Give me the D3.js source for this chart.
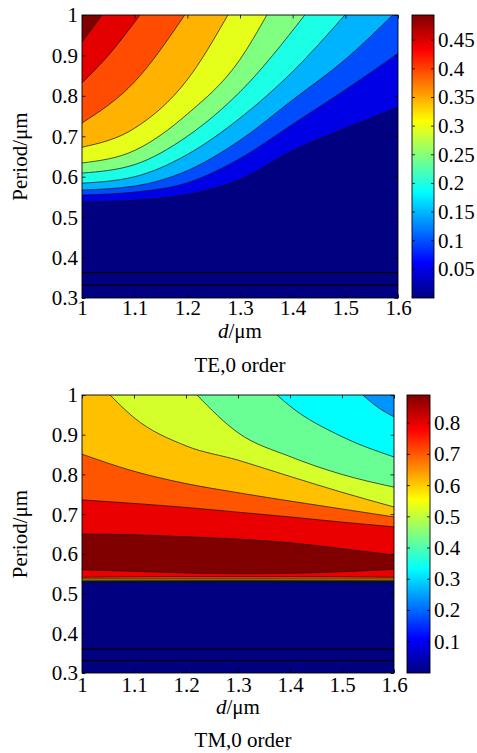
<!DOCTYPE html>
<html>
<head>
<meta charset="utf-8">
<script src="https://cdn.jsdelivr.net/npm/d3@7"></script>
<style>
  html, body { margin: 0; padding: 0; background: #fff; }
  svg text { font-family: "Liberation Serif", "Times New Roman", serif; font-size: 21px; fill: #000; }
</style>
</head>
<body>
<svg id="fig" width="477" height="753" font-family="Liberation Serif, serif"></svg>
<script>
// ---------- shared axes ----------
const dTicks = [1, 1.1, 1.2, 1.3, 1.4, 1.5, 1.6];
const periodTicks = [0.3, 0.4, 0.5, 0.6, 0.7, 0.8, 0.9, 1];

// ---------- TE, 0 order ----------
const teRange = [0, 0.494];
const teLevels = [0.045, 0.09, 0.135, 0.18, 0.225, 0.27, 0.315, 0.36, 0.405, 0.45];
const teBarTicks = [0.05, 0.1, 0.15, 0.2, 0.25, 0.3, 0.35, 0.4, 0.45];
// iso-efficiency lines as [d, period] points; efficiency is above the level over each line
const teIso = [
  [[1.0, 0.538], [1.1, 0.542], [1.2, 0.556], [1.3, 0.593], [1.4, 0.665], [1.5, 0.720], [1.6, 0.772]],
  [[1.0, 0.555], [1.1, 0.562], [1.2, 0.585], [1.3, 0.645], [1.4, 0.730], [1.5, 0.815], [1.6, 0.905]],
  [[1.0, 0.567], [1.1, 0.577], [1.2, 0.615], [1.3, 0.690], [1.4, 0.790], [1.5, 0.890], [1.59, 1.0]],
  [[1.0, 0.584], [1.1, 0.600], [1.2, 0.655], [1.3, 0.745], [1.4, 0.860], [1.499, 1.0]],
  [[1.0, 0.609], [1.1, 0.630], [1.2, 0.700], [1.3, 0.810], [1.423, 1.0]],
  [[1.0, 0.634], [1.1, 0.665], [1.2, 0.755], [1.3, 0.890], [1.351, 1.0]],
  [[1.0, 0.673], [1.1, 0.720], [1.2, 0.840], [1.277, 1.0]],
  [[1.0, 0.733], [1.1, 0.835], [1.195, 1.0]],
  [[1.0, 0.832], [1.05, 0.900], [1.11, 1.0]],
  [[1.0, 0.933], [1.038, 1.0]]
];
const teFlat = [0.363, 0.332];

// ---------- TM, 0 order ----------
const tmRange = [0, 0.89];
const tmLevels = [0.081, 0.162, 0.243, 0.324, 0.405, 0.486, 0.567, 0.648, 0.729, 0.81];
const tmBarTicks = [0.1, 0.2, 0.3, 0.4, 0.5, 0.6, 0.7, 0.8];
// lower edge of each "above level" region (steep rise near the cut-off period)
const tmLower = [
  [[1.0, 0.529], [1.3, 0.5295], [1.6, 0.529]],
  [[1.0, 0.5295], [1.3, 0.530], [1.6, 0.5295]],
  [[1.0, 0.530], [1.3, 0.5305], [1.6, 0.530]],
  [[1.0, 0.5305], [1.3, 0.531], [1.6, 0.5305]],
  [[1.0, 0.531], [1.3, 0.5315], [1.6, 0.531]],
  [[1.0, 0.532], [1.3, 0.5325], [1.6, 0.532]],
  [[1.0, 0.534], [1.3, 0.534], [1.6, 0.5335]],
  [[1.0, 0.537], [1.3, 0.537], [1.6, 0.5365]],
  [[1.0, 0.541], [1.2, 0.542], [1.4, 0.542], [1.6, 0.541]],
  [[1.0, 0.560], [1.1, 0.556], [1.2, 0.552], [1.3, 0.550], [1.4, 0.551], [1.5, 0.555], [1.6, 0.561]]
];
// upper edge of each "above level" region (null: reaches the top of the plot)
const tmUpper = [
  null,
  null,
  null,
  [[1.54, 1.0], [1.57, 0.968], [1.6, 0.945]],
  [[1.375, 1.0], [1.4, 0.972], [1.5, 0.895], [1.6, 0.844]],
  [[1.221, 1.0], [1.3, 0.905], [1.4, 0.845], [1.5, 0.800], [1.6, 0.768]],
  [[1.054, 1.0], [1.1, 0.943], [1.2, 0.872], [1.3, 0.836], [1.4, 0.795], [1.5, 0.755], [1.6, 0.718]],
  [[1.0, 0.851], [1.1, 0.808], [1.2, 0.777], [1.3, 0.754], [1.4, 0.733], [1.5, 0.713], [1.6, 0.693]],
  [[1.0, 0.736], [1.1, 0.727], [1.2, 0.717], [1.3, 0.705], [1.4, 0.693], [1.5, 0.680], [1.6, 0.668]],
  [[1.0, 0.650], [1.1, 0.648], [1.2, 0.643], [1.3, 0.637], [1.4, 0.628], [1.5, 0.613], [1.6, 0.597]]
];
const tmFlat = [0.36, 0.331];

// ---------- helpers ----------
function jet(t) {
  const c = v => Math.max(0, Math.min(1, v));
  const r = c(Math.min(4 * t - 1.5, -4 * t + 4.5));
  const g = c(Math.min(4 * t - 0.5, -4 * t + 3.5));
  const b = c(Math.min(4 * t + 0.5, -4 * t + 2.5));
  return d3.rgb(r * 255, g * 255, b * 255).formatHex();
}

const svg = d3.select("#fig");
const defs = svg.append("defs");
const serif = "Liberation Serif, Times New Roman, serif";

function drawPanel(o) {
  const x = d3.scaleLinear().domain([1, 1.6]).range([o.x0, o.x1]);
  const y = d3.scaleLinear().domain([0.3, 1]).range([o.y1, o.y0]);
  // band index -> position along the colour map
  const bandT = d3.scaleLinear().domain([0, o.levels.length]).range(o.bandSpan).clamp(true);
  const bandColor = k => jet(Math.max(0, bandT(k)));
  const line = d3.line().x(p => x(p[0])).y(p => y(p[1])).curve(d3.curveMonotoneX);

  defs.append("clipPath").attr("id", "clip-" + o.id)
    .append("rect").attr("x", o.x0).attr("y", o.y0)
    .attr("width", o.x1 - o.x0).attr("height", o.y1 - o.y0);

  const g = svg.append("g");
  const body = g.append("g").attr("clip-path", `url(#clip-${o.id})`);

  // lowest band fills the whole field, higher bands are stacked over it
  body.append("rect").attr("x", o.x0).attr("y", o.y0)
    .attr("width", o.x1 - o.x0).attr("height", o.y1 - o.y0)
    .attr("fill", bandColor(0));

  o.regions(line, x, y).forEach((p, i) => {
    body.append("path").attr("d", p).attr("fill", bandColor(i + 1)).attr("stroke", "none");
  });

  // contour lines
  o.lines.forEach(c => {
    body.append("path").attr("d", line(c)).attr("fill", "none")
      .attr("stroke", "#111").attr("stroke-width", 0.7);
  });
  o.flat.forEach(p => {
    body.append("line").attr("x1", x(1)).attr("x2", x(1.6))
      .attr("y1", y(p)).attr("y2", y(p))
      .attr("stroke", "#000").attr("stroke-width", 1.3);
  });

  // axes with inward ticks on all four sides
  const tk = 3.5;
  const fmt = d => String(d);
  const ax = [
    g.append("g").attr("transform", `translate(0,${o.y1})`)
      .call(d3.axisBottom(x).tickValues(dTicks).tickSize(-tk).tickPadding(o.xPad).tickFormat(fmt)),
    g.append("g").attr("transform", `translate(0,${o.y0})`)
      .call(d3.axisTop(x).tickValues(dTicks).tickSize(-tk).tickFormat("")),
    g.append("g").attr("transform", `translate(${o.x0},0)`)
      .call(d3.axisLeft(y).tickValues(periodTicks).tickSize(-tk).tickPadding(4).tickFormat(fmt)),
    g.append("g").attr("transform", `translate(${o.x1},0)`)
      .call(d3.axisRight(y).tickValues(periodTicks).tickSize(-tk).tickFormat(""))
  ];
  ax.forEach(a => {
    a.attr("font-family", serif).attr("font-size", 21);
    a.select(".domain").remove();
    a.selectAll(".tick line").attr("stroke", "#000").attr("stroke-width", 0.8);
  });
  ax[2].selectAll(".tick text").attr("dy", "0.33em");

  g.append("rect").attr("x", o.x0).attr("y", o.y0)
    .attr("width", o.x1 - o.x0).attr("height", o.y1 - o.y0)
    .attr("fill", "none").attr("stroke", "#000").attr("stroke-width", 0.9);

  // axis titles
  const xl = g.append("text").attr("x", (o.x0 + o.x1) / 2).attr("y", o.xlabelY)
    .attr("text-anchor", "middle");
  xl.append("tspan").attr("font-style", "italic").text("d");
  xl.append("tspan").text("/μm");

  g.append("text").attr("transform", `translate(27,${(o.y0 + o.y1) / 2}) rotate(-90)`)
    .attr("text-anchor", "middle").text("Period/μm");

  g.append("text").attr("x", o.captionX).attr("y", o.captionY)
    .attr("text-anchor", "middle").text(o.caption);

  // colour bar
  const cy = d3.scaleLinear().domain(o.range).range([o.y1, o.y0]);
  const grad = defs.append("linearGradient").attr("id", "grad-" + o.id)
    .attr("x1", 0).attr("y1", 1).attr("x2", 0).attr("y2", 0);
  d3.range(0, 65).forEach(i => {
    grad.append("stop").attr("offset", i / 64).attr("stop-color", jet(i / 64));
  });
  g.append("rect").attr("x", o.cb0).attr("y", o.y0)
    .attr("width", o.cb1 - o.cb0).attr("height", o.y1 - o.y0)
    .attr("fill", `url(#grad-${o.id})`);
  o.barTicks.forEach(v => {
    const yy = cy(v);
    g.append("line").attr("x1", o.cb0).attr("x2", o.cb0 + 3).attr("y1", yy).attr("y2", yy)
      .attr("stroke", "#000").attr("stroke-width", 0.8);
    g.append("line").attr("x1", o.cb1 - 3).attr("x2", o.cb1).attr("y1", yy).attr("y2", yy)
      .attr("stroke", "#000").attr("stroke-width", 0.8);
    g.append("text").attr("x", o.cb1 + 4).attr("y", yy).attr("dy", "0.33em").text(String(v));
  });
  g.append("rect").attr("x", o.cb0).attr("y", o.y0)
    .attr("width", o.cb1 - o.cb0).attr("height", o.y1 - o.y0)
    .attr("fill", "none").attr("stroke", "#000").attr("stroke-width", 0.9);
}

// TE panel: each band is the area above its iso-line
drawPanel({
  id: "te", x0: 82, x1: 398, y0: 15, y1: 298, cb0: 412, cb1: 434,
  range: teRange, levels: teLevels, bandSpan: [0, 1], barTicks: teBarTicks, flat: teFlat,
  lines: teIso, xPad: 2, xlabelY: 337.5, caption: "TE,0 order", captionX: 240, captionY: 372,
  regions: (line, x, y) => teIso.map(c =>
    line(c) + `L${x(1.6)},${y(1)}L${x(1)},${y(1)}Z`)
});

// TM panel: each band lies between the cut-off edge and its upper iso-line
drawPanel({
  id: "tm", x0: 82, x1: 394, y0: 395, y1: 673, cb0: 407, cb1: 430,
  range: tmRange, levels: tmLevels, bandSpan: [-0.043, 1], barTicks: tmBarTicks, flat: tmFlat,
  lines: tmLower.concat(tmUpper.filter(u => u)),
  xPad: 4, xlabelY: 714, caption: "TM,0 order", captionX: 243, captionY: 747,
  regions: (line, x, y) => tmLower.map((lo, i) => {
    const hi = tmUpper[i];
    let p = line(lo);
    if (!hi) return p + `L${x(1.6)},${y(1)}L${x(1)},${y(1)}Z`;
    p += "L" + line(hi.slice().reverse()).slice(1);
    if (hi[0][1] >= 1) p += `L${x(1)},${y(1)}`;
    return p + "Z";
  })
});
</script>
</body>
</html>
